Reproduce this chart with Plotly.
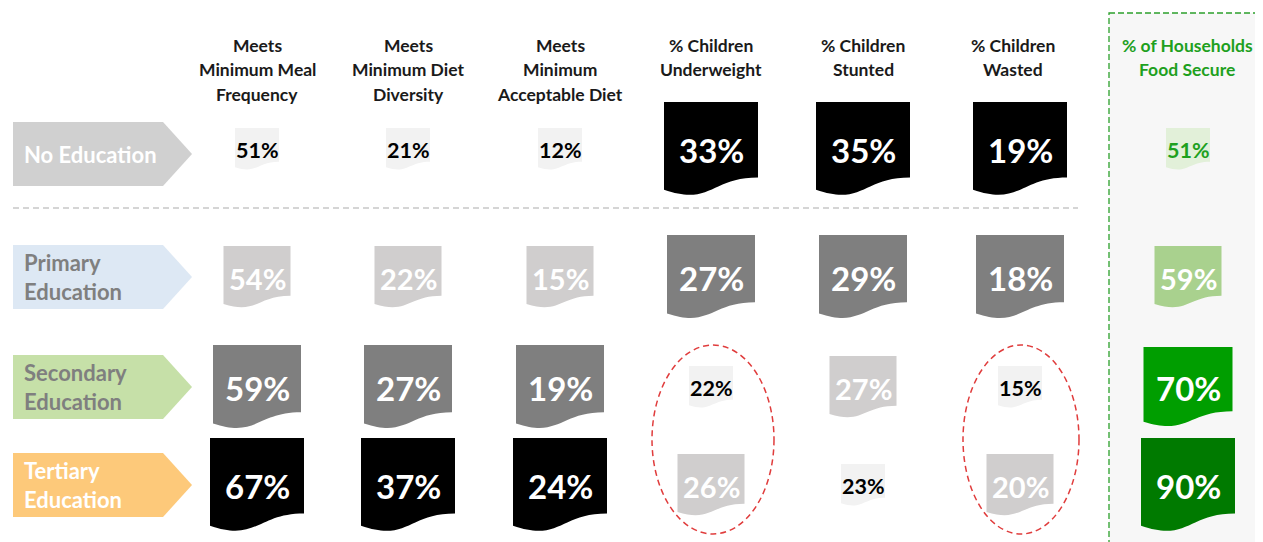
import plotly.graph_objects as go

# education levels (rows) and indicators (columns)
levels = ["No Education", "Primary<br>Education", "Secondary<br>Education", "Tertiary<br>Education"]
headers = [
    ["Meets", "Minimum Meal", "Frequency"],
    ["Meets", "Minimum Diet", "Diversity"],
    ["Meets", "Minimum", "Acceptable Diet"],
    ["% Children", "Underweight"],
    ["% Children", "Stunted"],
    ["% Children", "Wasted"],
    ["% of Households", "Food Secure"],
]

no_education = [51, 21, 12, 33, 35, 19, 51]
primary = [54, 22, 15, 27, 29, 18, 59]
secondary = [59, 27, 19, 22, 27, 15, 70]
tertiary = [67, 37, 24, 26, 23, 20, 90]

# rank shown in the original (1 = biggest/darkest, 4 = smallest/lightest)
rank_no_education = [4, 4, 4, 1, 1, 1, 4]
rank_primary = [3, 3, 3, 2, 2, 2, 3]
rank_secondary = [2, 2, 2, 4, 3, 4, 2]
rank_tertiary = [1, 1, 1, 3, 4, 3, 1]

values = [no_education, primary, secondary, tertiary]
ranks = [rank_no_education, rank_primary, rank_secondary, rank_tertiary]

# layout constants (page pixel space; the page body has an 8px margin)
W, H = 1263, 542
PAD = 8
col_x = [257, 408, 560, 711, 863, 1020, 1188]
header_x = [257, 408, 560, 711, 863, 1013, 1187]
row_y = [149, 277, 387, 485]
label_y = [154, 277, 387, 485]
box_size = {1: (94, 94), 2: (88, 84), 3: (67, 62), 4: (44, 42)}
font_size = {1: 33, 2: 33, 3: 29, 4: 21.5}
gray_fill = {1: "#000000", 2: "#7f7f7f", 3: "#d0cece", 4: "#f2f2f2"}
green_fill = {1: "#007a00", 2: "#009e00", 3: "#a9d18e", 4: "#e2f0d9"}
label_fill = ["#d0d0d0", "#dde8f4", "#c6e0a8", "#fdc97a"]
label_text = ["white", "#7f7f7f", "#7f7f7f", "white"]
green_text = "#1ea01e"
FONT = "Lato"


def document_path(cx, cy, w, h):
    x0, y0 = cx - w / 2, cy - h / 2
    x1 = x0 + w
    return (
        f"M{x0},{y0} L{x1},{y0} L{x1},{y0 + 0.802 * h} "
        f"C{x0 + w / 2},{y0 + 0.802 * h} {x0 + w / 2},{y0 + 1.107 * h} {x0},{y0 + 0.934 * h} Z"
    )


fig = go.Figure()
fig.add_trace(go.Scatter(x=[PAD, W], y=[PAD, H], mode="markers", marker=dict(opacity=0), hoverinfo="skip"))

shapes = []
annotations = []

# green highlighted column frame
shapes.append(dict(type="rect", x0=1109, x1=1260, y0=13, y1=H + 5, layer="below",
                   fillcolor="#f7f7f7", line=dict(color="#2ca02c", width=1.3, dash="6px,3px")))

# divider between no education and the rest
shapes.append(dict(type="line", x0=13, x1=1078, y0=208, y1=208, layer="below",
                   line=dict(color="#c8c8c8", width=1.5, dash="6px,4px")))

# column headers
for c, lines in enumerate(headers):
    colour = green_text if c == 6 else "#1a1a1a"
    for i, line in enumerate(lines):
        annotations.append(dict(x=header_x[c], y=45 + 24.5 * i,
                                text=f"<b>{line}</b>", showarrow=False,
                                font=dict(family=FONT, size=17.5, color=colour)))

# row labels as arrows
for r, level in enumerate(levels):
    yc = label_y[r]
    hh = 32
    path = f"M13,{yc - hh} L163,{yc - hh} L192,{yc} L163,{yc + hh} L13,{yc + hh} Z"
    shapes.append(dict(type="path", path=path, fillcolor=label_fill[r], line=dict(width=0)))
    annotations.append(dict(x=22, y=yc, xanchor="left", text=f"<b>{level}</b>", showarrow=False,
                            align="left", font=dict(family=FONT, size=22, color=label_text[r])))

# value cells
for r in range(len(levels)):
    for c in range(len(headers)):
        rank = ranks[r][c]
        w, h = box_size[rank]
        if c == 6 and rank == 2:
            w, h = 89, 80
        fill = green_fill[rank] if c == 6 else gray_fill[rank]
        shapes.append(dict(type="path", path=document_path(col_x[c], row_y[r], w, h),
                           fillcolor=fill, line=dict(width=0)))
        if rank == 4:
            txt = green_text if c == 6 else "#000000"
        else:
            txt = "white"
        annotations.append(dict(x=col_x[c], y=row_y[r] + 1, text=f"<b>{values[r][c]}%</b>",
                                showarrow=False, font=dict(family=FONT, size=font_size[rank], color=txt)))

# red dashed ellipses
for cx, rx in [(713, 61), (1021, 58)]:
    shapes.append(dict(type="circle", x0=cx - rx, x1=cx + rx, y0=345, y1=534,
                       line=dict(color="#e03c3c", width=1.5, dash="6px,4px")))

fig.update_layout(
    width=W - PAD, height=H - PAD,
    margin=dict(l=0, r=0, t=0, b=0),
    paper_bgcolor="white", plot_bgcolor="white",
    xaxis=dict(range=[PAD, W], visible=False, fixedrange=True),
    yaxis=dict(range=[H, PAD], visible=False, fixedrange=True),
    shapes=shapes, annotations=annotations,
    showlegend=False,
)

fig.write_html("out.html")
